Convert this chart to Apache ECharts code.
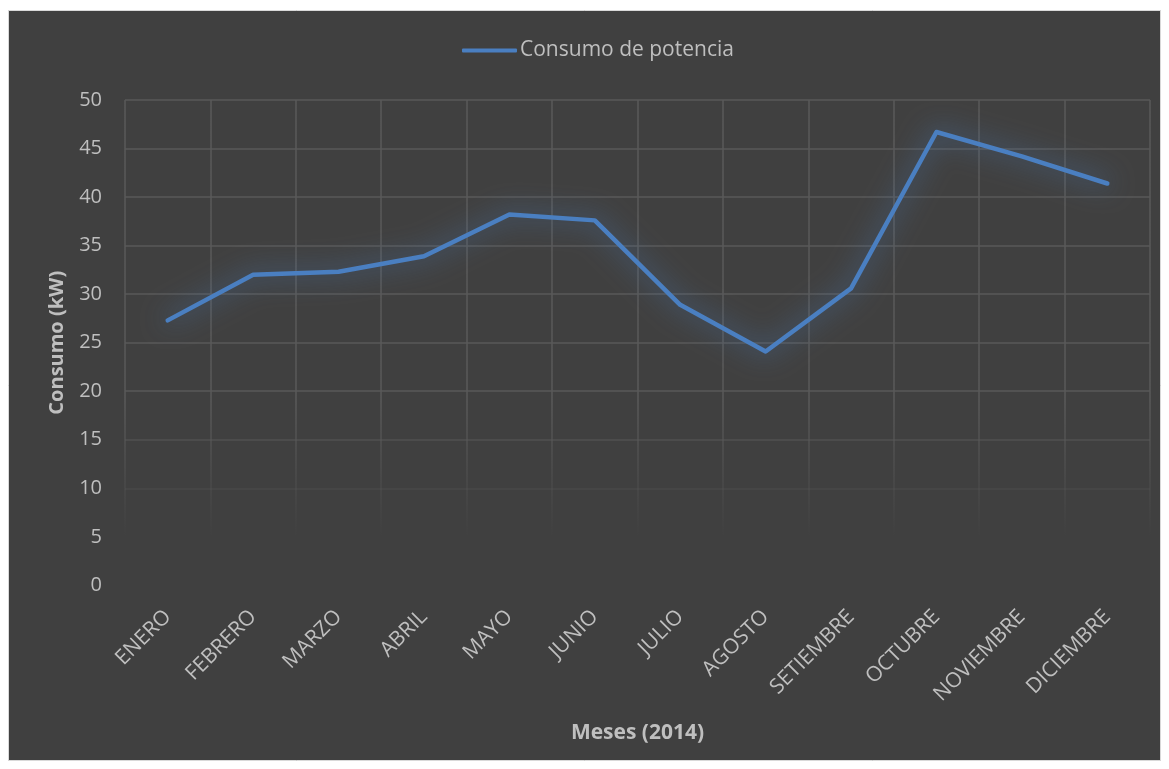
<!DOCTYPE html>
<html>
<head>
<meta charset="utf-8">
<style>
  html, body { margin: 0; padding: 0; background: #ffffff; }
  #chart { width: 1169px; height: 769px; }
</style>
<script src="https://cdn.jsdelivr.net/npm/echarts@6/dist/echarts.min.js"></script>
</head>
<body>
<div id="chart"></div>
<script>
// Monthly power consumption, 2014
const months = ['ENERO', 'FEBRERO', 'MARZO', 'ABRIL', 'MAYO', 'JUNIO', 'JULIO',
  'AGOSTO', 'SETIEMBRE', 'OCTUBRE', 'NOVIEMBRE', 'DICIEMBRE'];
const consumo = [27.3, 32.0, 32.3, 33.9, 38.2, 37.6, 28.9, 24.1, 30.6, 46.7, 44.2, 41.4];
const seriesName = 'Consumo de potencia';
const yAxisTitle = 'Consumo (kW)';
const xAxisTitle = 'Meses (2014)';

const textColor = '#bfbfbf';
const gridColor = '#595959';
const lineColor = '#4a7fc1';
const font = '"Open Sans", "DejaVu Sans", sans-serif';

const chart = echarts.init(document.getElementById('chart'), null, { renderer: 'canvas' });

// grid lines fade out toward the bottom of the plot area
const fadeGradient = new echarts.graphic.LinearGradient(0, 100, 0, 586, [
  { offset: 0, color: gridColor },
  { offset: 0.62, color: gridColor },
  { offset: 0.9, color: 'rgba(89,89,89,0)' },
  { offset: 1, color: 'rgba(89,89,89,0)' }
], true);

chart.setOption({
  backgroundColor: '#ffffff',
  animation: false,
  graphic: [{
    type: 'rect',
    shape: { x: 8.5, y: 10.5, width: 1152, height: 750 },
    style: { fill: '#404040', stroke: '#d9d9d9', lineWidth: 1 },
    z: -10
  }],
  legend: {
    left: 462,
    top: 40,
    padding: 0,
    data: [{ name: seriesName, icon: 'roundRect' }],
    itemWidth: 55,
    itemHeight: 4,
    textStyle: { color: textColor, fontSize: 21, fontFamily: font, padding: [0, 0, 0, -2] }
  },
  grid: { left: 125, top: 100, right: 19, bottom: 183.6, containLabel: false },
  xAxis: {
    type: 'category',
    data: months,
    boundaryGap: true,
    name: xAxisTitle,
    nameLocation: 'middle',
    nameGap: 137,
    nameTextStyle: { color: textColor, fontSize: 21, fontWeight: 'bold', fontFamily: font, verticalAlign: 'top' },
    axisLine: { show: false },
    axisTick: { show: false },
    axisLabel: { color: textColor, fontSize: 21, fontFamily: font, rotate: 45, margin: 28, interval: 0 },
    splitLine: { show: true, interval: 0, lineStyle: { color: fadeGradient, width: 1.5 } }
  },
  yAxis: {
    type: 'value',
    min: 0,
    max: 50,
    interval: 5,
    name: yAxisTitle,
    nameLocation: 'middle',
    nameGap: 58,
    nameRotate: 90,
    nameTextStyle: { color: textColor, fontSize: 20, fontWeight: 'bold', fontFamily: font },
    axisLine: { show: false },
    axisTick: { show: false },
    axisLabel: { color: textColor, fontSize: 20, fontFamily: font, margin: 23 },
    splitLine: {
      show: true,
      lineStyle: {
        width: 1.5,
        color: ['rgba(89,89,89,0)', 'rgba(89,89,89,0)', 'rgba(89,89,89,0.35)', 'rgba(89,89,89,0.7)',
          gridColor, gridColor, gridColor, gridColor, gridColor, gridColor, gridColor]
      }
    }
  },
  series: [{
    name: seriesName,
    type: 'line',
    data: consumo,
    symbol: 'none',
    lineStyle: {
      color: lineColor,
      width: 4.5,
      cap: 'round',
      join: 'round',
      shadowColor: 'rgba(74,127,193,0.9)',
      shadowBlur: 26
    },
    itemStyle: { color: lineColor }
  }]
});
</script>
</body>
</html>
